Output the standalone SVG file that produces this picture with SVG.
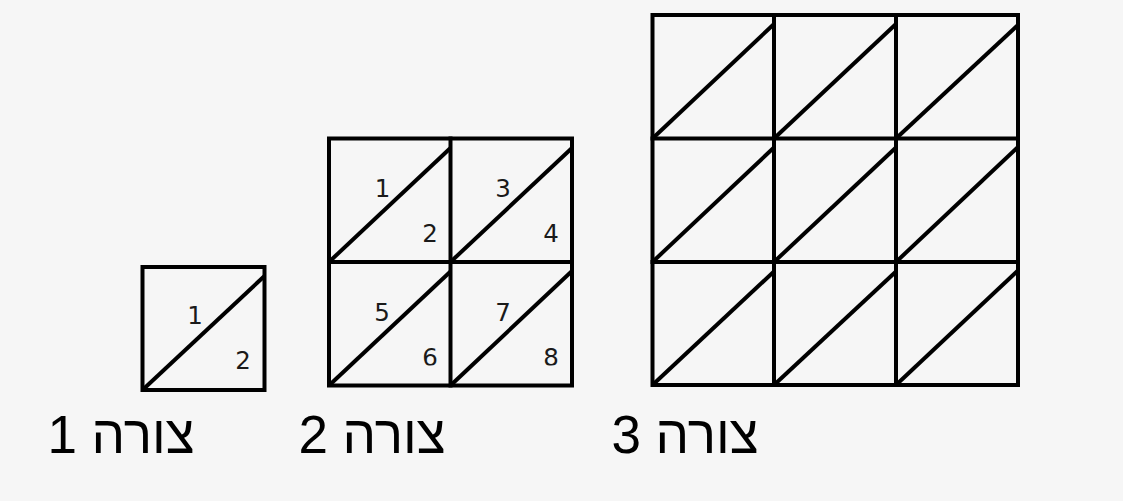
<svg xmlns="http://www.w3.org/2000/svg" width="1123" height="501" viewBox="0 0 1123 501">
<style>
.bg{fill:#f6f6f6}
.ln{fill:none;stroke:#000;stroke-width:4;stroke-linecap:square}
.dg{fill:none;stroke:#000;stroke-width:4}
.num{font-family:"DejaVu Sans","Liberation Sans",sans-serif;font-size:24.5px;fill:#1a1a1a;text-anchor:middle}
.lbl{font-family:"Liberation Sans",Arial,sans-serif;font-size:53px;fill:#000;text-anchor:middle}
</style>
<defs>
<clipPath id="clipRow"><rect x="320" y="262" width="260" height="103.5"/></clipPath>
</defs>
<rect class="bg" x="0" y="0" width="1123" height="501"/>
<g id="figure1">
<rect class="ln" x="142.5" y="267" width="122" height="123"/>
<line class="dg" x1="142.5" y1="390" x2="264.5" y2="276"/>
<text class="num" x="195" y="324">1</text>
<text class="num" x="243" y="369">2</text>
</g>
<g id="figure2">
<rect class="ln" x="329" y="138.5" width="243" height="247"/>
<line class="ln" x1="450.5" y1="138.5" x2="450.5" y2="385.5"/>
<line class="ln" x1="329" y1="262" x2="572" y2="262"/>
<line class="dg" x1="329" y1="262" x2="450.5" y2="148"/>
<line class="dg" x1="450.5" y1="262" x2="572" y2="148"/>
<line class="dg" x1="329" y1="385.5" x2="450.5" y2="271.5"/>
<line class="dg" x1="450.5" y1="385.5" x2="572" y2="271"/>
<text class="num" x="382.5" y="197">1</text>
<text class="num" x="430" y="242">2</text>
<text class="num" x="503" y="197">3</text>
<text class="num" x="551" y="242">4</text>
<text class="num" x="382" y="320.5">5</text>
<text class="num" x="430" y="365.5" clip-path="url(#clipRow)">6</text>
<text class="num" x="503" y="320.5">7</text>
<text class="num" x="551" y="365.5" clip-path="url(#clipRow)">8</text>
</g>
<g id="figure3">
<rect class="ln" x="652.5" y="15" width="365.5" height="370"/>
<line class="ln" x1="774" y1="15" x2="774" y2="385"/>
<line class="ln" x1="896" y1="15" x2="896" y2="385"/>
<line class="ln" x1="652.5" y1="138.5" x2="1018" y2="138.5"/>
<line class="ln" x1="652.5" y1="262" x2="1018" y2="262"/>
<line class="dg" x1="652.5" y1="138.5" x2="774" y2="24"/>
<line class="dg" x1="774" y1="138.5" x2="896" y2="24"/>
<line class="dg" x1="896" y1="138.5" x2="1018" y2="25"/>
<line class="dg" x1="652.5" y1="262" x2="774" y2="147.5"/>
<line class="dg" x1="774" y1="262" x2="896" y2="147.5"/>
<line class="dg" x1="896" y1="262" x2="1018" y2="147"/>
<line class="dg" x1="652.5" y1="385" x2="774" y2="271.5"/>
<line class="dg" x1="774" y1="385" x2="896" y2="271.5"/>
<line class="dg" x1="896" y1="385" x2="1018" y2="270.5"/>
</g>
<g id="labels">
<text class="lbl" x="121" y="453" direction="rtl">צורה 1</text>
<text class="lbl" x="372" y="453" direction="rtl">צורה 2</text>
<text class="lbl" x="685" y="453" direction="rtl">צורה 3</text>
</g>
</svg>
